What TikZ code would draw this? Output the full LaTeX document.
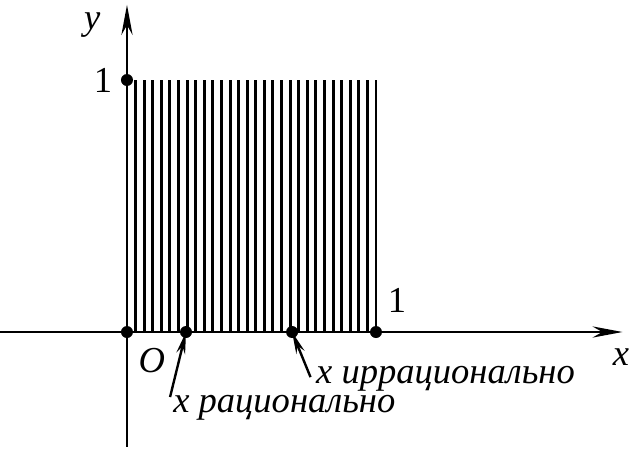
\documentclass[tikz,border=0pt]{standalone}
\usepackage{fontspec}
\setmainfont{Liberation Serif}
\usetikzlibrary{arrows.meta}
\begin{document}
\begin{tikzpicture}[x=6.225cm, y=6.3cm, line width=1.7pt, font=\fontsize{26}{30}\selectfont]
    \useasboundingbox (-0.510,-0.4603) rectangle (2.0201,1.3175);

    % Ejes
    \coordinate (xmin) at (-0.51,0);
    \coordinate (xmax) at (1.99,0);
    \coordinate (ymin) at (0,-0.455);
    \coordinate (ymax) at (0,1.298);
    \draw[-{Stealth[length=0.75cm, width=0.28cm]}] (xmin) -- (xmax);
    \draw[-{Stealth[length=0.75cm, width=0.28cm]}] (ymin) -- (ymax);
    \node (xl) at (1.984,-0.099) {\itshape x};
    \node (yl) at (-0.14,1.218) {\itshape y};

    % Rayas verticales sobre [0,1], una cada 1/29
    \foreach \k in {1,...,29}
        \draw[line width=2.1pt] ({\k/29},0) -- ({\k/29},1);

    % Puntos
    \coordinate (O) at (0,0);
    \coordinate (Y1) at (0,1);
    \coordinate (X1) at (1,0);
    \coordinate (R) at (0.237,0);
    \coordinate (I) at (0.663,0);
    \foreach \p in {O, Y1, X1, R, I}
        \fill (\p) circle (0.15cm);

    \node (ol) at (0.100,-0.115) {\itshape O};
    \node (y1l) at (-0.096,1.0) {1};
    \node (x1l) at (1.084,0.127) {1};

    % Etiquetas con flechas
    \node[anchor=base west, inner sep=0pt] (rat) at (0.181,-0.321) {\itshape x рационально};
    \node[anchor=base west, inner sep=0pt] (irr) at (0.755,-0.206) {\itshape x иррационально};
    \coordinate (ratTail) at (0.173,-0.258);
    \coordinate (irrTail) at (0.737,-0.179);
    \draw[-{Stealth[length=0.55cm, width=0.22cm]}] (ratTail) -- (R);
    \draw[-{Stealth[length=0.55cm, width=0.22cm]}] (irrTail) -- (I);
\end{tikzpicture}
\end{document}
